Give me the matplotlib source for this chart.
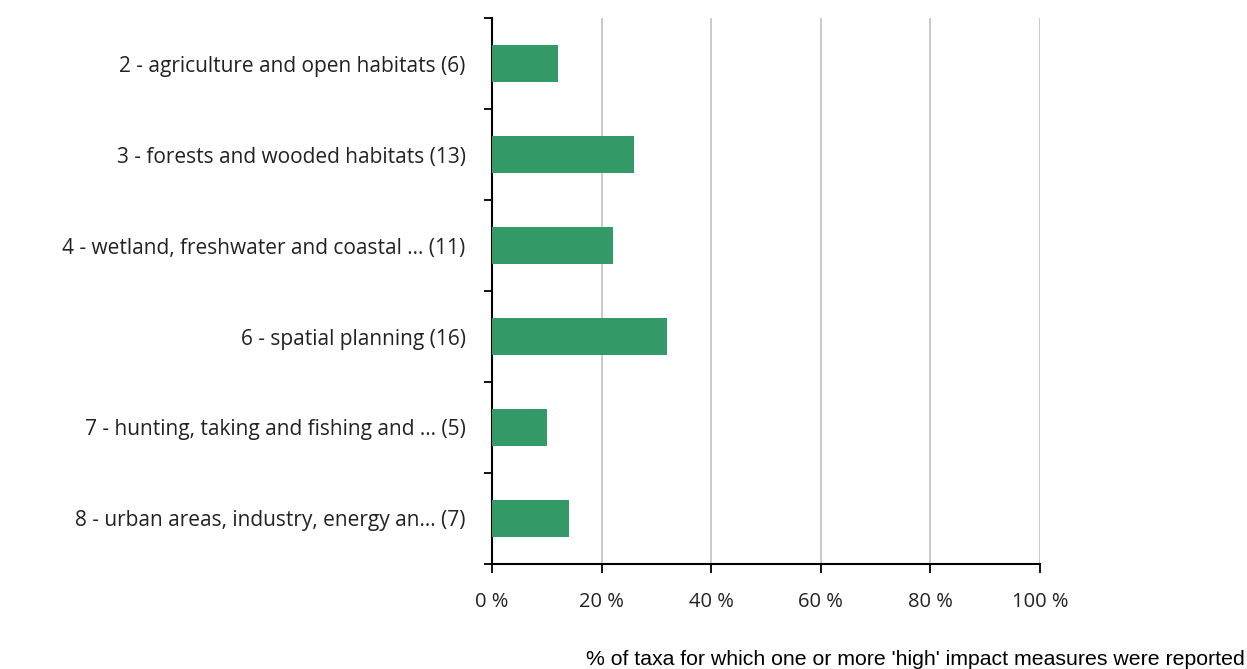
import numpy as np
import matplotlib.pyplot as plt

# categories (top to bottom) and % of taxa with 'high' impact measures
categories = ['2 - agriculture and open habitats (6)',
              '3 - forests and wooded habitats (13)',
              '4 - wetland, freshwater and coastal ... (11)',
              '6 - spatial planning (16)',
              '7 - hunting, taking and fishing and ... (5)',
              '8 - urban areas, industry, energy an... (7)']
values = [12, 26, 22, 32, 10, 14]
xticks = [0, 20, 40, 60, 80, 100]
xtick_labels = ['0 %', '20 %', '40 %', '60 %', '80 %', '100 %']

fig = plt.figure(figsize=(12.47, 6.69), dpi=100)
ax = fig.add_axes([0.3945, 0.157, 0.4395, 0.816])

y = np.arange(len(categories))
ax.barh(y, values, height=0.4, color='#339966', zorder=3)
ax.set_ylim(len(categories) - 0.5, -0.5)
ax.set_xlim(0, 100)

# category boundaries as y ticks
ax.set_yticks(np.arange(len(categories) + 1) - 0.5)
ax.set_yticklabels([])
ax.set_yticks(y, minor=True)
ax.set_yticklabels(categories, minor=True, fontsize=15, family='Open Sans', color='#222222')
ax.tick_params(axis='y', which='minor', length=0, pad=19)
ax.tick_params(axis='y', which='major', length=6, width=1.3, direction='out')

ax.set_xticks(xticks)
ax.set_xticklabels(xtick_labels, fontsize=14.5, family='Open Sans', color='#222222')
ax.tick_params(axis='x', length=6.5, width=1.3, direction='out', pad=14)
ax.grid(axis='x', color='#c0c0c0', linewidth=1.2, zorder=0)

for s in ['top', 'right']:
    ax.spines[s].set_visible(False)
ax.spines['left'].set_linewidth(1.5)
ax.spines['bottom'].set_linewidth(1.5)

fig.text(0.9985, 0.006, "% of taxa for which one or more 'high' impact measures were reported",
         ha='right', va='baseline', fontsize=15.3, family='Liberation Sans', color='black')

fig.savefig('out.png', dpi=100)
